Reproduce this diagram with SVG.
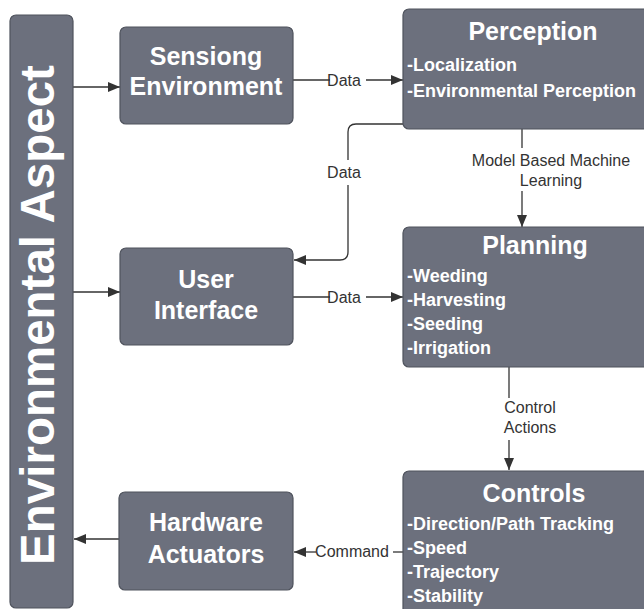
<svg xmlns="http://www.w3.org/2000/svg" width="644" height="609" viewBox="0 0 644 609">
  <style>
    .box { fill: #6c707d; stroke: #4f535d; stroke-width: 1.2; }
    .title { font-family: "Liberation Sans", Arial, sans-serif; font-weight: bold; font-size: 25px; fill: #ffffff; text-anchor: middle; }
    .item { font-family: "Liberation Sans", Arial, sans-serif; font-weight: bold; font-size: 18px; fill: #ffffff; }
    .side { font-family: "Liberation Sans", Arial, sans-serif; font-weight: bold; font-size: 47.5px; fill: #ffffff; text-anchor: middle; }
    .wire { fill: none; stroke: #333333; stroke-width: 1.3; }
    .label { font-family: "Liberation Sans", Arial, sans-serif; font-size: 16px; fill: #333333; text-anchor: middle; }
  </style>
  <defs>
    <marker id="arrow" viewBox="0 0 12 10" refX="12" refY="5" markerWidth="12" markerHeight="10" markerUnits="userSpaceOnUse" orient="auto">
      <path d="M0,0 L12,5 L0,10 Z" fill="#333333"/>
    </marker>
  </defs>
  <rect width="644" height="609" fill="#ffffff"/>

  <!-- connectors -->
  <g id="connectors">
    <!-- environment bar to Sensing -->
    <path class="wire" d="M73,87 H120" marker-end="url(#arrow)"/>
    <!-- environment bar to User Interface -->
    <path class="wire" d="M73,292 H120" marker-end="url(#arrow)"/>
    <!-- Hardware to environment bar -->
    <path class="wire" d="M119,539 H74" marker-end="url(#arrow)"/>
    <!-- Sensing to Perception -->
    <path class="wire" d="M293,80 H330"/>
    <path class="wire" d="M366,80 H403" marker-end="url(#arrow)"/>
    <text class="label" x="344" y="86">Data</text>
    <!-- Perception back to User Interface -->
    <path class="wire" d="M403,124 H356 Q348,124 348,132 V160"/>
    <path class="wire" d="M348,185 V252 Q348,260 340,260 H294" marker-end="url(#arrow)"/>
    <text class="label" x="344" y="178">Data</text>
    <!-- User Interface to Planning -->
    <path class="wire" d="M293,297 H330"/>
    <path class="wire" d="M366,297 H403" marker-end="url(#arrow)"/>
    <text class="label" x="344" y="303">Data</text>
    <!-- Perception to Planning -->
    <path class="wire" d="M522,129 V148"/>
    <path class="wire" d="M522,191 V227" marker-end="url(#arrow)"/>
    <text class="label" x="551" y="166">Model Based Machine</text>
    <text class="label" x="551" y="186">Learning</text>
    <!-- Planning to Controls -->
    <path class="wire" d="M509,367 V398"/>
    <path class="wire" d="M509,440 V470" marker-end="url(#arrow)"/>
    <text class="label" x="530" y="413">Control</text>
    <text class="label" x="530" y="433">Actions</text>
    <!-- Controls to Hardware -->
    <path class="wire" d="M403,552 H393"/>
    <path class="wire" d="M316,552 H294" marker-end="url(#arrow)"/>
    <text class="label" x="352" y="557">Command</text>
  </g>

  <g id="environmental-aspect">
    <rect class="box" x="10" y="15" width="63" height="593" rx="6"/>
    <text class="side" transform="translate(54,315) rotate(-90)">Environmental Aspect</text>
  </g>

  <g id="sensing-environment">
    <rect class="box" x="120" y="27" width="173" height="97" rx="6"/>
    <text class="title" x="206" y="65">Sensiong</text>
    <text class="title" x="206" y="95">Environment</text>
  </g>

  <g id="user-interface">
    <rect class="box" x="120" y="248" width="173" height="97" rx="6"/>
    <text class="title" x="206" y="288">User</text>
    <text class="title" x="206" y="319">Interface</text>
  </g>

  <g id="hardware-actuators">
    <rect class="box" x="119" y="492" width="174" height="98" rx="6"/>
    <text class="title" x="206" y="531">Hardware</text>
    <text class="title" x="206" y="563">Actuators</text>
  </g>

  <g id="perception">
    <rect class="box" x="403" y="9" width="250" height="120" rx="6"/>
    <text class="title" x="533" y="40">Perception</text>
    <text class="item" x="407" y="71">-Localization</text>
    <text class="item" x="407" y="97">-Environmental Perception</text>
  </g>

  <g id="planning">
    <rect class="box" x="403" y="227" width="250" height="140" rx="6"/>
    <text class="title" x="535" y="254">Planning</text>
    <text class="item" x="407" y="282">-Weeding</text>
    <text class="item" x="407" y="306">-Harvesting</text>
    <text class="item" x="407" y="330">-Seeding</text>
    <text class="item" x="407" y="354">-Irrigation</text>
  </g>

  <g id="controls">
    <rect class="box" x="403" y="471" width="250" height="150" rx="6"/>
    <text class="title" x="534" y="502">Controls</text>
    <text class="item" x="407" y="530">-Direction/Path Tracking</text>
    <text class="item" x="407" y="554">-Speed</text>
    <text class="item" x="407" y="578">-Trajectory</text>
    <text class="item" x="407" y="602">-Stability</text>
  </g>
</svg>
